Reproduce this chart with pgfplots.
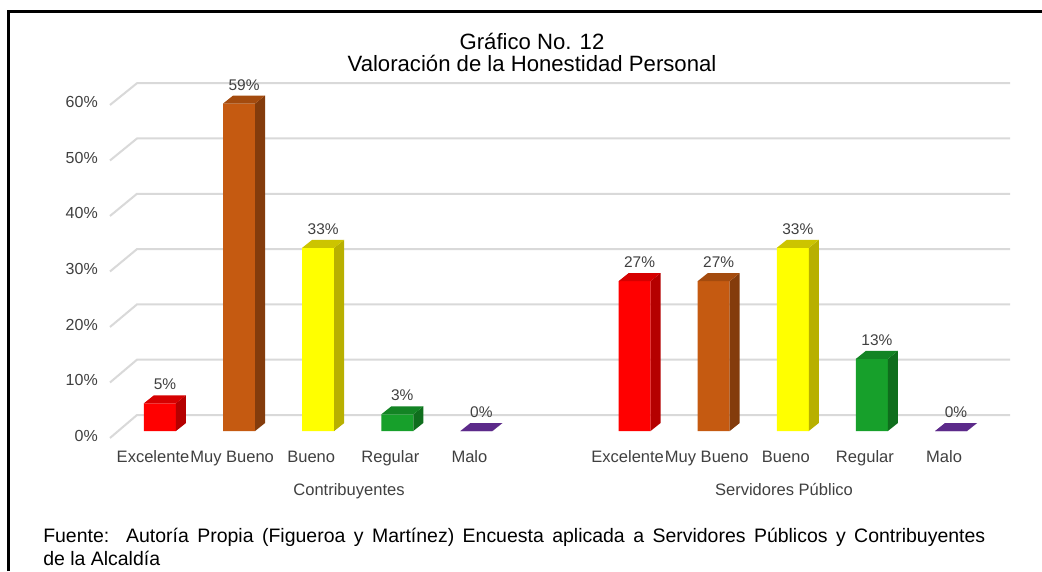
\documentclass[border=0pt]{standalone}
\usepackage{pgfplots}
\pgfplotsset{compat=1.18}
\usepackage{fontspec}
\setmainfont{Liberation Sans}
\definecolor{cred}{HTML}{FF0000}
\definecolor{credside}{HTML}{B50000}
\definecolor{credtop}{HTML}{D60000}
\definecolor{cor}{HTML}{C55A11}
\definecolor{corside}{HTML}{843C0C}
\definecolor{cortop}{HTML}{A44B0E}
\definecolor{cye}{HTML}{FFFF00}
\definecolor{cyeside}{HTML}{B8B000}
\definecolor{cyetop}{HTML}{CCC400}
\definecolor{cgr}{HTML}{17A02B}
\definecolor{cgrside}{HTML}{0F6E1D}
\definecolor{cgrtop}{HTML}{138424}
\definecolor{cpu}{HTML}{7030A0}
\definecolor{cpuside}{HTML}{4B2070}
\definecolor{cputop}{HTML}{5C2A8A}
\definecolor{gridc}{HTML}{D9D9D9}
\definecolor{lblgray}{HTML}{404040}
% 3D faces of a bar: #1 x, #2 value, #3 side colour, #4 top colour
\newcommand{\cubefaces}[4]{%
 \pgfmathsetmacro{\xr}{#1+0.2023}%
 \pgfmathsetmacro{\xl}{#1-0.2023}%
 \pgfmathsetmacro{\xrd}{#1+0.2023+0.1264}%
 \pgfmathsetmacro{\xld}{#1-0.2023+0.1264}%
 \pgfmathsetmacro{\vt}{#2+1.441}%
 \edef\tmp{\noexpand\addplot[draw=none,fill=#3] coordinates {(\xr,0) (\xrd,1.441) (\xrd,\vt) (\xr,#2)};
 \noexpand\addplot[draw=none,fill=#4] coordinates {(\xl,#2) (\xld,\vt) (\xrd,\vt) (\xr,#2)};}%
 \tmp
}
\pgfplotsset{
 frontbar/.style={ybar, bar width=24pt, bar shift=0pt, draw=none, fill=#1,
   nodes near coords={\pgfmathprintnumber[assume math mode=true]{\pgfplotspointmeta}\%},
   every node near coord/.append style={inner sep=0pt, yshift=9.75pt, xshift=3.75pt,
     font=\fontsize{11.6}{13}\selectfont, text=lblgray}},
}
\begin{document}
\begin{tikzpicture}
\path[use as bounding box] (0pt,0pt) rectangle (781.5pt,428.25pt);
\fill[white] (0pt,0pt) rectangle (781.5pt,428.25pt);
\draw[line width=2.25pt] (6.375pt,0pt) -- (6.375pt,419.625pt) -- (781.5pt,419.625pt);
\node[anchor=base, inner sep=0pt, font=\fontsize{16.6}{19}\selectfont] at (399pt,390.75pt) {Gráfico No. 12};
\node[anchor=base, inner sep=0pt, font=\fontsize{16.6}{19}\selectfont] at (399pt,374.25pt) {Valoración de la Honestidad Personal};
\begin{axis}[at={(82.5pt,99.75pt)}, anchor=south west, scale only axis,
  width=675pt, height=266.25pt,
  xmin=-0.632, xmax=10.746, ymin=-1.26, ymax=62.7,
  axis line style={draw=none}, tick style={draw=none}, clip=false,
  ytick={-0.9,9.13,19.16,29.2,39.22,49.25,59.28},
  yticklabels={0\%,10\%,20\%,30\%,40\%,50\%,60\%},
  yticklabel style={anchor=east, inner sep=0pt, xshift=-9pt,
    font=\fontsize{12}{14}\selectfont, text=lblgray},
  xtick={-0.088,0.912,1.912,2.912,3.912,5.912,6.912,7.912,8.912,9.912},
  xticklabels={Excelente,Muy Bueno,Bueno,Regular,Malo,Excelente,Muy Bueno,Bueno,Regular,Malo},
  xticklabel style={anchor=base, inner sep=0pt, yshift=-18.75pt,
    font=\fontsize{12.4}{14}\selectfont, text=lblgray},
]
% back wall grid lines
\addplot[gridc, line width=1.5pt] coordinates {(-0.632,-1.26) (-0.291,2.88) (10.746,2.88)};
\addplot[gridc, line width=1.5pt] coordinates {(-0.632,8.74) (-0.291,12.85) (10.746,12.85)};
\addplot[gridc, line width=1.5pt] coordinates {(-0.632,18.74) (-0.291,22.81) (10.746,22.81)};
\addplot[gridc, line width=1.5pt] coordinates {(-0.632,28.74) (-0.291,32.77) (10.746,32.77)};
\addplot[gridc, line width=1.5pt] coordinates {(-0.632,38.74) (-0.291,42.74) (10.746,42.74)};
\addplot[gridc, line width=1.5pt] coordinates {(-0.632,48.74) (-0.291,52.70) (10.746,52.70)};
\addplot[gridc, line width=1.5pt] coordinates {(-0.632,58.74) (-0.291,62.66) (10.746,62.66)};
% Excelente
\addplot[frontbar=cred] coordinates {(0,5) (6,27)};
\cubefaces{0}{5}{credside}{credtop}
\cubefaces{6}{27}{credside}{credtop}
% Muy Bueno
\addplot[frontbar=cor] coordinates {(1,59) (7,27)};
\cubefaces{1}{59}{corside}{cortop}
\cubefaces{7}{27}{corside}{cortop}
% Bueno
\addplot[frontbar=cye] coordinates {(2,33) (8,33)};
\cubefaces{2}{33}{cyeside}{cyetop}
\cubefaces{8}{33}{cyeside}{cyetop}
% Regular
\addplot[frontbar=cgr] coordinates {(3,3) (9,13)};
\cubefaces{3}{3}{cgrside}{cgrtop}
\cubefaces{9}{13}{cgrside}{cgrtop}
% Malo
\addplot[frontbar=cpu] coordinates {(4,0) (10,0)};
\cubefaces{4}{0}{cpuside}{cputop}
\cubefaces{10}{0}{cpuside}{cputop}
\end{axis}
\node[anchor=base, inner sep=0pt, font=\fontsize{12.4}{14}\selectfont, text=lblgray] at (261.75pt,56.25pt) {Contribuyentes};
\node[anchor=base, inner sep=0pt, font=\fontsize{12.4}{14}\selectfont, text=lblgray] at (588pt,56.25pt) {Servidores Público};
\node[anchor=base west, inner sep=0pt, font=\fontsize{14.6}{16}\selectfont] at (32.25pt,21pt) {\makebox[706.5pt][s]{Fuente:\ \ Autoría Propia (Figueroa y Martínez) Encuesta aplicada a Servidores Públicos y Contribuyentes}};
\node[anchor=base west, inner sep=0pt, font=\fontsize{14.6}{16}\selectfont] at (32.25pt,4.5pt) {de la Alcaldía};
\end{tikzpicture}
\end{document}
